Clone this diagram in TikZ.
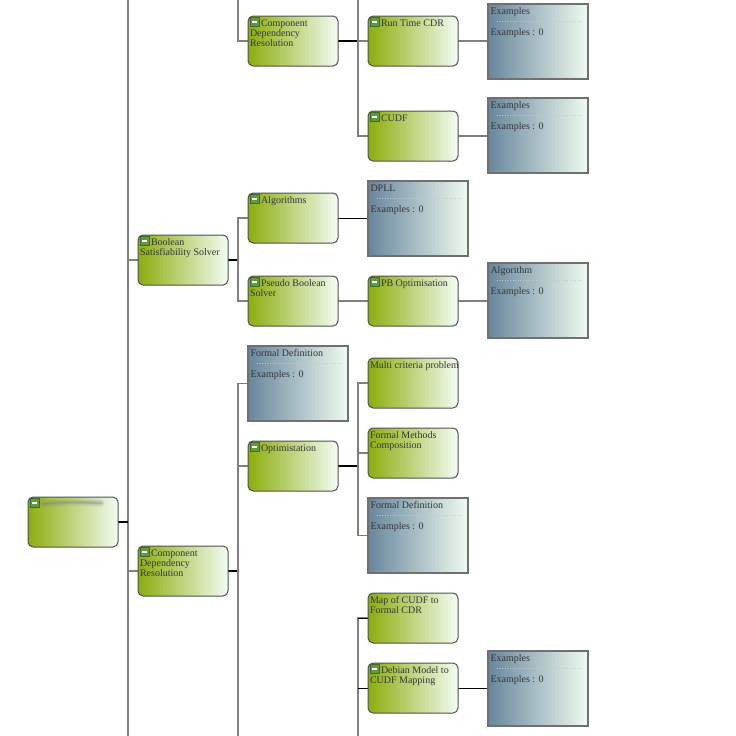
\documentclass[tikz,border=0pt]{standalone}
\usepackage{fontspec}
\setmainfont{Liberation Serif}
\pgfdeclarelayer{background}
\pgfsetlayers{background,main}
\definecolor{gL}{HTML}{8CAD0C}
\definecolor{gR}{HTML}{F3FCF2}
\definecolor{bL}{HTML}{67869D}
\definecolor{bR}{HTML}{F0FBF0}
\definecolor{txt}{HTML}{353535}
\definecolor{edge}{HTML}{808080}
\definecolor{icnfill}{HTML}{5F9A40}
\definecolor{icnline}{HTML}{3B6E25}
\tikzset{
  gbox/.style={draw={rgb,255:red,80;green,80;blue,80}, line width=1pt, rounded corners=5pt,
    minimum width=90pt, minimum height=50pt, anchor=north west, inner sep=0pt, outer sep=0pt,
    left color=gL, right color=gR},
  bbox/.style={draw={rgb,255:red,112;green,112;blue,112}, line width=1.3pt,
    minimum width=100pt, minimum height=75pt, anchor=north west, inner sep=0pt, outer sep=0pt,
    left color=bL, right color=bR},
  icn/.style={draw=icnline, fill=icnfill, line width=0.8pt, minimum size=9pt,
    inner sep=0pt, outer sep=0pt, anchor=north west},
  gtxt/.style={anchor=north west, inner sep=0pt, outer sep=0pt, align=left, text=txt,
    font=\fontsize{10}{10}\selectfont},
  btxt/.style={anchor=base west, inner sep=0pt, outer sep=0pt, text=txt,
    font=\fontsize{10}{10}\selectfont},
  dots/.style={draw={rgb,255:red,200;green,200;blue,200}, line width=0.6pt, dotted},
  conn/.style={draw=edge, line width=1.5pt},
  stub/.style={draw=black, line width=1.5pt},
  thinstub/.style={draw=black, line width=1pt},
}
% green item box with collapse icon
\newcommand\gnodei[4]{%
  \node[gbox] (#1) at (#2,#3) {};
  \node[icn] (#1-i) at ([shift={(2pt,-1.5pt)}]#1.north west) {};
  \fill[white] ([shift={(-2.8pt,-0.75pt)}]#1-i.center) rectangle ([shift={(2.8pt,0.75pt)}]#1-i.center);
  \node[gtxt] (#1-t) at ([shift={(2pt,-2.5pt)}]#1.north west) {\hspace*{11pt}\rule{0pt}{8.3pt}#4};
}
% green item box without icon
\newcommand\gnoden[4]{%
  \node[gbox] (#1) at (#2,#3) {};
  \node[gtxt] (#1-t) at ([shift={(2pt,-2.5pt)}]#1.north west) {\rule{0pt}{8.3pt}#4};
}
% blue-grey detail box
\newcommand\bnode[4]{%
  \node[bbox] (#1) at (#2,#3) {};
  \node[btxt] (#1-t) at ([shift={(2.5pt,-10pt)}]#1.north west) {#4};
  \draw[dots] ([shift={(9pt,-17pt)}]#1.north west) -- ([shift={(94pt,-17pt)}]#1.north west);
  \node[btxt] (#1-c) at ([shift={(2.5pt,-31pt)}]#1.north west) {Examples : 0};
}
\begin{document}
\begin{tikzpicture}[x=1pt,y=-1pt]
\useasboundingbox (0,0) rectangle (736,736);

% root
\node[gbox] (root) at (28,497) {};
\node[icn] (root-i) at ([shift={(2pt,-1.5pt)}]root.north west) {};
\fill[white] ([shift={(-2.8pt,-0.75pt)}]root-i.center) rectangle ([shift={(2.8pt,0.75pt)}]root-i.center);
\foreach \w/\o in {8/0.08,6/0.10,4/0.14,2.5/0.18,1.2/0.2}
  \draw[line width=\w pt, gray, opacity=\o, line cap=round] (43,504) .. controls (70,502) .. (101,503);

% level 1
\gnodei{bss}{138}{235}{Boolean\\Satisfiability Solver}
\gnodei{cdrA}{138}{546}{Component\\Dependency\\Resolution}

% level 2
\gnodei{cdrB}{248}{16}{Component\\Dependency\\Resolution}
\gnodei{alg}{248}{193}{Algorithms}
\gnodei{pbs}{248}{276}{Pseudo Boolean\\Solver}
\bnode{fdA}{248}{346}{Formal Definition}
\gnodei{opt}{248}{441}{Optimistation}

% level 3
\gnodei{rtc}{368}{16}{Run Time CDR}
\gnodei{cudf}{368}{111}{CUDF}
\bnode{dpll}{368}{181}{DPLL}
\gnodei{pbo}{368}{276}{PB Optimisation}
\gnoden{mcp}{368}{358}{Multi criteria problem}
\gnoden{fmc}{368}{428}{Formal Methods\\Composition}
\bnode{fdB}{368}{498}{Formal Definition}
\gnoden{map}{368}{593}{Map of CUDF to\\Formal CDR}
\gnodei{deb}{368}{663}{Debian Model to\\CUDF Mapping}

% level 4
\bnode{exA}{488}{4}{Examples}
\bnode{exB}{488}{98}{Examples}
\bnode{algb}{488}{263}{Algorithm}
\bnode{exC}{488}{651}{Examples}

% connector trunks
\coordinate (jA) at (128,0);  \coordinate (jAb) at (128,736);
\coordinate (jB) at (238,0);  \coordinate (jBb) at (238,736);
\coordinate (jC) at (358,0);  \coordinate (jCb) at (358,736);

\begin{pgfonlayer}{background}
  % root and its children
  \draw[conn] (jA) -- (jAb);
  \draw[stub] (root.east) -- (root.east -| jA);
  \draw[conn] (bss.west -| jA) -- (bss.west);
  \draw[conn] (cdrA.west -| jA) -- (cdrA.west);
  % last child of a branch above
  \draw[conn] (jB) -- (cdrB.west -| jB) -- (cdrB.west);
  % Boolean Satisfiability Solver
  \draw[stub] (bss.east) -- (bss.east -| jB);
  \draw[conn] (alg.west) -- (alg.west -| jB) -- (pbs.west -| jB) -- (pbs.west);
  % Component Dependency Resolution (lower)
  \draw[stub] (cdrA.east) -- (cdrA.east -| jB);
  \draw[conn] (fdA.west) -- (fdA.west -| jB) -- (jBb);
  \draw[conn] (opt.west -| jB) -- (opt.west);
  % Component Dependency Resolution (upper)
  \draw[stub] (cdrB.east) -- (cdrB.east -| jC);
  \draw[conn] (jC) -- (cudf.west -| jC) -- (cudf.west);
  \draw[conn] (rtc.west -| jC) -- (rtc.west);
  \draw[conn] (rtc.east) -- (rtc.east -| exA.west);
  \draw[conn] (cudf.east) -- (cudf.east -| exB.west);
  % Algorithms / Pseudo Boolean Solver
  \draw[thinstub] (alg.east) -- (alg.east -| dpll.west);
  \draw[conn] (pbs.east) -- (pbs.east -| pbo.west);
  \draw[conn] (pbo.east) -- (pbo.east -| algb.west);
  % Optimistation
  \draw[stub] (opt.east) -- (opt.east -| jC);
  \draw[conn] (mcp.west) -- (mcp.west -| jC) -- (fdB.west -| jC) -- (fdB.west);
  \draw[conn] (fmc.west -| jC) -- (fmc.west);
  % branch continuing below
  \draw[conn] (map.west) -- (map.west -| jC) -- (jCb);
  \draw[thinstub] (map.west -| jC) -- (map.west);
  \draw[thinstub] (deb.west -| jC) -- (deb.west);
  \draw[thinstub] (deb.east) -- (deb.east -| exC.west);
\end{pgfonlayer}
\end{tikzpicture}
\end{document}
